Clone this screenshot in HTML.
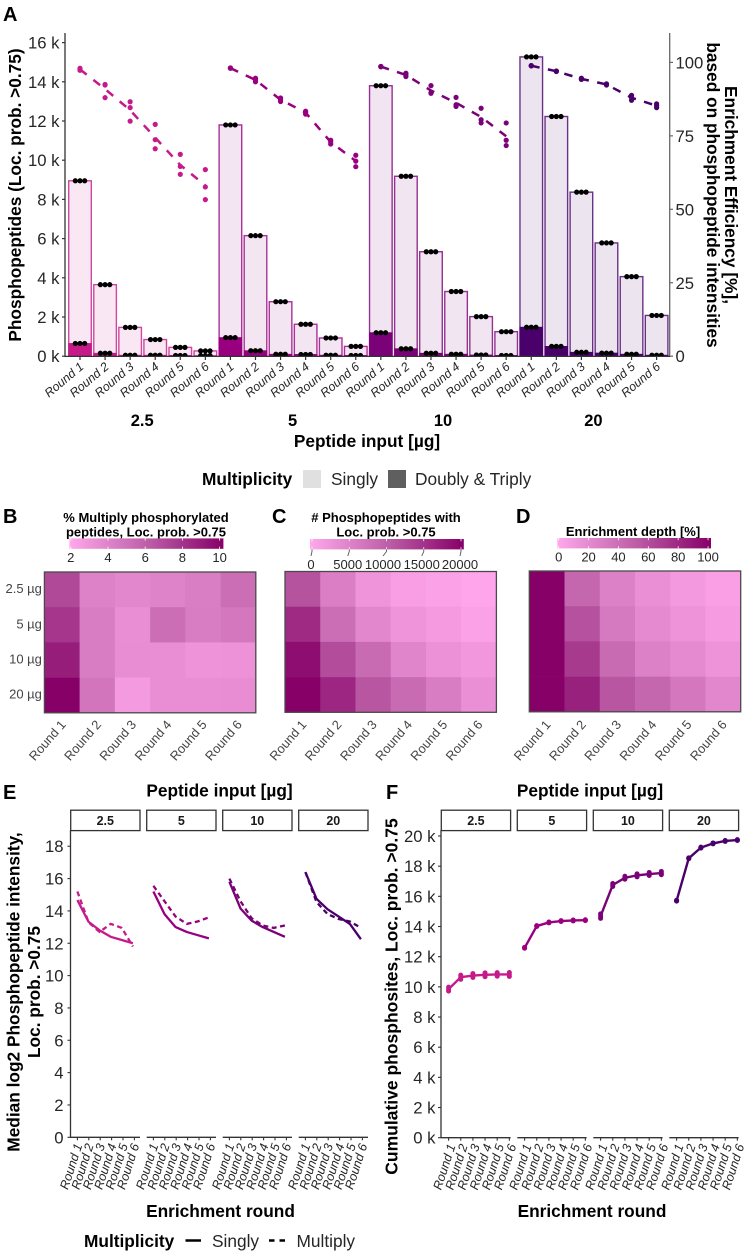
<!DOCTYPE html>
<html lang="en">
<head>
<meta charset="utf-8">
<title>Phosphopeptide enrichment figure</title>
<style>
html,body{margin:0;padding:0;background:#fff;}
svg{display:block;font-family:"Liberation Sans",Arial,sans-serif;}
.b{font-weight:bold;fill:#000;}
.t{fill:#262626;}
</style>
</head>
<body>
<svg id="fig" xmlns="http://www.w3.org/2000/svg" width="746" height="1256" viewBox="0 0 746 1256">
<defs>
<clipPath id="clipA"><rect x="65" y="33" width="605" height="323.3"/></clipPath>
<linearGradient id="cbar" x1="0" x2="1" y1="0" y2="0">
<stop offset="0" stop-color="#ffa8ec"/>
<stop offset="0.5" stop-color="#be60a8"/>
<stop offset="1" stop-color="#860068"/>
</linearGradient>
</defs>
<text class="b" x="3" y="21" font-size="20">A</text>
<text class="b" x="3" y="523" font-size="20">B</text>
<text class="b" x="272" y="523" font-size="20">C</text>
<text class="b" x="516" y="523" font-size="20">D</text>
<text class="b" x="3" y="799" font-size="20">E</text>
<text class="b" x="386" y="799" font-size="20">F</text>

<text class="b" font-size="17.3" text-anchor="middle" transform="translate(21 195) rotate(-90)">Phosphopeptides (Loc. prob. &gt;0.75)</text>
<text class="b" font-size="17.3" text-anchor="middle" transform="translate(725 195) rotate(90)">Enrichment Efficiency [%],</text>
<text class="b" font-size="17.3" text-anchor="middle" transform="translate(707 195) rotate(90)">based on phosphopeptide intensities</text>
<text class="b" font-size="17.3" text-anchor="middle" x="367" y="447">Peptide input [µg]</text>
<text class="b" font-size="17.3" x="202" y="485">Multiplicity</text>
<rect x="303" y="470" width="18" height="18" fill="#e0e0e0"/>
<text class="t" font-size="17.3" x="331" y="485">Singly</text>
<rect x="388" y="470" width="18" height="18" fill="#5f5f5f"/>
<text class="t" font-size="17.3" x="415" y="485">Doubly &amp; Triply</text>

<text class="b" font-size="13" text-anchor="middle" x="146" y="522">% Multiply phosphorylated</text>
<text class="b" font-size="13" text-anchor="middle" x="146" y="536.500">peptides, Loc. prob. &gt;0.75</text>
<text class="b" font-size="13" text-anchor="middle" x="386" y="522"># Phosphopeptides with</text>
<text class="b" font-size="13" text-anchor="middle" x="386" y="536.500">Loc. prob. &gt;0.75</text>
<text class="b" font-size="13" text-anchor="middle" x="633" y="536">Enrichment depth [%]</text>

<text class="b" font-size="17.3" text-anchor="middle" x="219.500" y="796.500">Peptide input [µg]</text>
<text class="b" font-size="17.3" text-anchor="middle" x="590" y="796.500">Peptide input [µg]</text>
<text class="b" font-size="17.3" text-anchor="middle" x="220.500" y="1217">Enrichment round</text>
<text class="b" font-size="17.3" text-anchor="middle" x="592" y="1217">Enrichment round</text>
<text class="b" font-size="17.3" text-anchor="middle" transform="translate(19.500 992) rotate(-90)">Median log2 Phosphopeptide intensity,</text>
<text class="b" font-size="17.3" text-anchor="middle" transform="translate(40 992) rotate(-90)">Loc. prob. &gt;0.75</text>
<text class="b" font-size="17.5" text-anchor="middle" transform="translate(397.500 996.500) rotate(-90)">Cumulative phosphosites, Loc. prob. &gt;0.75</text>
<text class="b" font-size="17.3" x="84" y="1247">Multiplicity</text>
<line x1="185.500" x2="201" y1="1240.500" y2="1240.500" stroke="#000" stroke-width="2.500"/>
<text class="t" font-size="17.3" x="212" y="1247">Singly</text>
<line x1="269" x2="285.500" y1="1240.500" y2="1240.500" stroke="#000" stroke-width="2.500" stroke-dasharray="5.500 5"/>
<text class="t" font-size="17.3" x="296.500" y="1247">Multiply</text>
</svg>
<script>
// ---------- shared category data ----------
const rounds = ['Round 1', 'Round 2', 'Round 3', 'Round 4', 'Round 5', 'Round 6'];
const inputs = ['2.5', '5', '10', '20'];
const inputColors = ['#c51b8a', '#98007f', '#7a0177', '#49006a'];

// ---------- panel A data ----------
const singlyTotals = [
  [8950, 3650, 1470, 850, 450, 270],
  [11800, 6150, 2780, 1630, 930, 500],
  [13800, 9180, 5330, 3300, 2020, 1250],
  [15270, 12230, 8370, 5780, 4060, 2080]
];
const doublyTotals = [
  [650, 150, 50, 50, 40, 30],
  [950, 280, 100, 90, 50, 40],
  [1200, 380, 150, 100, 60, 40],
  [1480, 500, 200, 160, 100, 50]
];
const efficiencyReps = [
  [[98, 97.6, 97.3], [92.5, 92.3, 88], [86.6, 84.6, 80], [78.9, 73.7, 70.6], [68.7, 64.6, 61.9], [63.5, 57.6, 53.3]],
  [[98.1, 98.1, 98], [94.6, 94.1, 93.4], [87.9, 87.3, 86.7], [83.4, 82.9, 82.4], [73.5, 72.9, 72.2], [68.4, 66.4, 64.5]],
  [[98.6, 98.6, 98.5], [96.3, 95.7, 95.2], [92.1, 89.7, 89.5], [88.1, 85.6, 85], [84.4, 80.5, 79.4], [79.4, 73.5, 71.7]],
  [[98.9, 98.9, 98.8], [97.1, 97, 96.9], [94.6, 94.4, 94.2], [92.7, 92.5, 92.3], [88.8, 88, 87.1], [85.9, 85.3, 84.6]]
];
const aLeftTicks = [0, 2000, 4000, 6000, 8000, 10000, 12000, 14000, 16000];
const aRightTicks = [0, 25, 50, 75, 100];

// ---------- heatmap data ----------
const inputRowLabels = ['2.5 µg', '5 µg', '10 µg', '20 µg'];
const heatB = [
  [7.06, 4.08, 3.75, 4.0, 4.33, 5.24],
  [7.88, 4.41, 3.34, 5.24, 4.41, 4.66],
  [8.96, 4.41, 3.42, 3.34, 3.0, 3.09],
  [10.2, 4.82, 2.6, 3.34, 3.34, 3.42]
];
const heatC = [
  [11400, 5600, 2400, 1000, 600, 0],
  [15600, 8000, 4400, 2400, 1600, 600],
  [18600, 12000, 8400, 4800, 3000, 2000],
  [20000, 16000, 11000, 8400, 6000, 3200]
];
const heatD = [
  [100, 45, 27, 16, 9, 4],
  [100, 58, 32, 20, 13, 7],
  [100, 70, 42, 27, 20, 13],
  [100, 83, 55, 45, 33, 22]
];
const ticksB = [2, 4, 6, 8, 10];
const ticksC = [0, 5000, 10000, 15000, 20000];
const ticksD = [0, 20, 40, 60, 80, 100];

// ---------- panel E data ----------
const medianSingly = [
  [14.67, 13.33, 12.8, 12.4, 12.2, 12.0],
  [15.2, 13.8, 13.0, 12.7, 12.5, 12.3],
  [15.8, 14.15, 13.4, 13.0, 12.7, 12.4],
  [16.4, 14.75, 14.1, 13.65, 13.2, 12.25]
];
const medianMultiply = [
  [15.2, 13.3, 12.7, 13.2, 12.95, 11.8],
  [15.55, 14.6, 13.65, 13.2, 13.35, 13.6],
  [16.0, 14.6, 13.55, 13.1, 12.95, 13.1],
  [16.4, 14.55, 13.8, 13.5, 13.35, 12.95]
];
const eTicks = [0, 2, 4, 6, 8, 10, 12, 14, 16, 18];

// ---------- panel F data ----------
const cumulativeReps = [
  [[9720, 9850, 9980], [10500, 10640, 10780], [10620, 10750, 10880], [10670, 10800, 10930], [10700, 10820, 10940], [10690, 10820, 10950]],
  [[12560, 12590, 12620], [14000, 14030, 14060], [14240, 14270, 14300], [14330, 14360, 14390], [14370, 14400, 14430], [14390, 14420, 14450]],
  [[14540, 14690, 14840], [16650, 16750, 16850], [17130, 17230, 17330], [17290, 17390, 17490], [17380, 17480, 17580], [17430, 17540, 17650]],
  [[15680, 15710, 15740], [18490, 18520, 18550], [19200, 19230, 19260], [19480, 19510, 19540], [19640, 19670, 19700], [19700, 19730, 19760]]
];
const fTicks = [0, 2000, 4000, 6000, 8000, 10000, 12000, 14000, 16000, 18000, 20000];

// ---------- drawing helpers ----------
const NS = 'http://www.w3.org/2000/svg';
const fig = document.getElementById('fig');
function mk(tag, attrs, parent) {
  const e = document.createElementNS(NS, tag);
  for (const k in attrs) e.setAttribute(k, attrs[k]);
  (parent || fig).appendChild(e);
  return e;
}
function txt(content, attrs, parent) {
  const e = mk('text', attrs, parent);
  e.textContent = content;
  return e;
}
function mean(a) { return a.reduce((s, v) => s + v, 0) / a.length; }
function kLabel(v) { return (v / 1000) + ' k'; }
const AXIS = '#333333';
const TXT = '#262626';

// ---------- panel A ----------
const aBottom = 356.2;
const yA = v => aBottom - v * 39.2 / 2000;
const yEff = v => aBottom - v * 2.938;
const xA = (g, r) => 80 + 25.07 * (g * 6 + r);

const panelA = mk('g', {});


const barsClip = mk('g', {'clip-path': 'url(#clipA)'}, panelA);


singlyTotals.forEach((row, g) => {
  row.forEach((v, r) => {
    const cx = xA(g, r);
    const bar = mk('rect', {x: cx - 11.3, y: yA(v), width: 22.6, height: aBottom - yA(v), fill: inputColors[g], 'fill-opacity': 0.1, stroke: inputColors[g], 'stroke-opacity': 0.8, 'stroke-width': 1.4}, barsClip);
    
    
    const d = doublyTotals[g][r];
    const bar2 = mk('rect', {x: cx - 11.3, y: yA(d), width: 22.6, height: aBottom - yA(d), fill: inputColors[g], stroke: inputColors[g], 'stroke-width': 0.8}, barsClip);
    
    
    [-1, 0, 1].forEach(k => {
      const p1 = mk('circle', {cx: cx + k * 4.7, cy: yA(v), r: 2.6, fill: '#000'}, barsClip);
      
      
      const p2 = mk('circle', {cx: cx + k * 4.7, cy: yA(d), r: 2.6, fill: '#000'}, barsClip);
      
      
    });
  });
});
efficiencyReps.forEach((grp, g) => {
  const pts = grp.map((reps, r) => xA(g, r) + ',' + yEff(mean(reps))).join(' ');
  const line = mk('polyline', {points: pts, fill: 'none', stroke: inputColors[g], 'stroke-width': 2.5, 'stroke-dasharray': '8.5 8.5'}, panelA);
  
  
  grp.forEach((reps, r) => {
    reps.forEach(v => {
      const c = mk('circle', {cx: xA(g, r), cy: yEff(v), r: 2.6, fill: inputColors[g]}, panelA);
      
      
    });
  });
});
const aAxisL = mk('line', {x1: 65, x2: 65, y1: 33, y2: 357, stroke: AXIS, 'stroke-width': 1.3}, panelA);


const aAxisR = mk('line', {x1: 669.7, x2: 669.7, y1: 33, y2: 357, stroke: '#666666', 'stroke-width': 1.3}, panelA);


const aAxisB = mk('line', {x1: 65, x2: 670, y1: 356.4, y2: 356.4, stroke: AXIS, 'stroke-width': 1.3}, panelA);


aLeftTicks.forEach(v => {
  const tk = mk('line', {x1: 62, x2: 65, y1: yA(v), y2: yA(v), stroke: AXIS, 'stroke-width': 1.2}, panelA);
  
  
  const lb = txt(kLabel(v), {x: 59.5, y: yA(v) + 6, 'text-anchor': 'end', 'font-size': 16.7, fill: TXT}, panelA);
  
  
});
aRightTicks.forEach(v => {
  const tk = mk('line', {x1: 670, x2: 673, y1: yEff(v), y2: yEff(v), stroke: '#666666', 'stroke-width': 1.2}, panelA);
  
  
  const lb = txt(String(v), {x: 675.5, y: yEff(v) + 6, 'font-size': 16.7, fill: TXT}, panelA);
  
  
});
inputs.forEach((name, g) => {
  rounds.forEach((rd, r) => {
    const cx = xA(g, r);
    const tk = mk('line', {x1: cx, x2: cx, y1: 357, y2: 360, stroke: AXIS, 'stroke-width': 1.2}, panelA);
    
    
    const lb = txt(rd, {'text-anchor': 'end', 'font-size': 12.3, 'font-style': 'italic', fill: TXT, transform: 'translate(' + (cx + 4.5) + ' 368) rotate(-40)'}, panelA);
    
    
  });
  const gl = txt(name, {x: (xA(g, 0) + xA(g, 5)) / 2 - 0.5, y: 426, 'text-anchor': 'middle', 'font-size': 16.5, 'font-weight': 'bold', fill: '#000'}, panelA);
  
  
});

// ---------- heatmaps ----------
const lowRGB = [255, 165, 235];
const midRGB = [190, 96, 168];
const highRGB = [134, 0, 104];
function heatColor(t) {
  const c = Math.max(0, Math.min(1, t));
  const from = c < 0.5 ? lowRGB : midRGB;
  const to = c < 0.5 ? midRGB : highRGB;
  const u = c < 0.5 ? c * 2 : (c - 0.5) * 2;
  const m = from.map((l, i) => Math.round(l + (to[i] - l) * u));
  return 'rgb(' + m.join(',') + ')';
}
function drawHeat(name, matrix, lo, hi, left, top, showRows) {
  const w = 211.4, h = 140.8;
  const cw = w / 6, ch = h / 4;
  const grp = mk('g', {});
  
  
  matrix.forEach((row, i) => {
    row.forEach((v, j) => {
      const cell = mk('rect', {x: left + j * cw, y: top + i * ch, width: cw + 0.3, height: ch + 0.3, fill: heatColor((v - lo) / (hi - lo))}, grp);
      
      
    });
  });
  const frame = mk('rect', {x: left, y: top, width: w, height: h, fill: 'none', stroke: '#4a4a4a', 'stroke-width': 1.3}, grp);
  
  
  rounds.forEach((rd, j) => {
    const cx = left + (j + 0.5) * cw;
    const lb = txt(rd, {'text-anchor': 'end', 'font-size': 12.8, fill: '#444444', transform: 'translate(' + (cx + 4.5) + ' 725) rotate(-49)'}, grp);
    
    
  });
  if (showRows) {
    inputRowLabels.forEach((rl, i) => {
      const lb = txt(rl, {x: left - 2.5, y: top + (i + 0.5) * ch + 3.5, 'text-anchor': 'end', 'font-size': 13, fill: '#444444'}, grp);
      
      
    });
  }
}
drawHeat('b', heatB, 1.93, 10.2, 44.4, 572, true);
drawHeat('c', heatC, 0, 20000, 285, 571.5, false);
drawHeat('d', heatD, 0, 100, 529.3, 571, false);

function drawColorbar(name, ticks, x0, x1, first, perUnit, top, labelY, stagger) {
  const grp = mk('g', {});
  
  
  const bar = mk('rect', {x: x0, y: top, width: x1 - x0, height: 10.4, fill: 'url(#cbar)'}, grp);
  
  
  ticks.forEach((v, i) => {
    const x = first + (v - ticks[0]) * perUnit;
    const t1 = mk('line', {x1: x, x2: x, y1: top, y2: top + 2.2, stroke: '#fff', 'stroke-width': 0.8}, grp);
    
    
    const t2 = mk('line', {x1: x, x2: x, y1: top + 8.2, y2: top + 10.4, stroke: '#fff', 'stroke-width': 0.8}, grp);
    
    
    let lx = x;
    if (stagger) {
      lx = x + stagger[i];
      const lead = mk('polyline', {points: x + ',' + (top + 10.4) + ' ' + x + ',' + (top + 12.5) + ' ' + lx + ',' + (top + 17), fill: 'none', stroke: '#555555', 'stroke-width': 0.9}, grp);
      
      
    }
    const lb = txt(String(v), {x: lx, y: labelY, 'text-anchor': 'middle', 'font-size': 13, fill: TXT}, grp);
    
    
  });
}
drawColorbar('b', ticksB, 69.4, 223.4, 70.8, 18.6, 538.4, 562, null);
drawColorbar('c', ticksC, 310, 463.8, 312, 0.00745, 539, 569, [-1, -1.5, -3.5, -2, -1]);
drawColorbar('d', ticksD, 557.4, 711, 558.7, 1.4935, 538, 561.5, null);

// ---------- facet frames ----------
function drawStrips(prefix, lefts) {
  inputs.forEach((name, g) => {
    const s = mk('rect', {x: lefts[g], y: 810.2, width: 69.3, height: 20.4, fill: '#fff', stroke: '#333333', 'stroke-width': 1.3});
    
    
    const l = txt(name, {x: lefts[g] + 34.6, y: 825, 'text-anchor': 'middle', 'font-size': 12.5, 'font-weight': 'bold', fill: '#1a1a1a'});
    
    
  });
}
function drawFacetAxis(prefix, lefts, yBase, firstOffset, step, labelDx) {
  lefts.forEach(left => {
    const ax = mk('line', {x1: left, x2: left + 69.3, y1: yBase, y2: yBase, stroke: AXIS, 'stroke-width': 1.3});
    
    
    rounds.forEach((rd, r) => {
      const x = left + firstOffset + r * step;
      const tk = mk('line', {x1: x, x2: x, y1: yBase, y2: yBase + 3, stroke: AXIS, 'stroke-width': 1.1});
      
      
      const lb = txt(rd, {'text-anchor': 'end', 'font-size': 12.5, 'font-style': 'italic', fill: TXT, transform: 'translate(' + (x + labelDx) + ' ' + (yBase + 8) + ') rotate(-72)'});
      
      
    });
  });
}

// ---------- panel E ----------
const eLefts = [70.7, 146.7, 222.7, 298.7];
const yE = v => 1137.3 - v * 16.17;
const xE = (g, r) => eLefts[g] + 6.7 + r * 11.1;
drawStrips('e', eLefts);
drawFacetAxis('e', eLefts, 1137.3, 6.7, 11.4, 5);
const eAxis = mk('line', {x1: 70.5, x2: 70.5, y1: 830, y2: 1138, stroke: AXIS, 'stroke-width': 1.3});


eTicks.forEach(v => {
  const tk = mk('line', {x1: 67.5, x2: 70.5, y1: yE(v), y2: yE(v), stroke: AXIS, 'stroke-width': 1.1});
  
  
  const lb = txt(String(v), {x: 63.5, y: yE(v) + 6, 'text-anchor': 'end', 'font-size': 16.7, fill: TXT});
  
  
});
medianSingly.forEach((row, g) => {
  const pts = row.map((v, r) => xE(g, r) + ',' + yE(v)).join(' ');
  const ln = mk('polyline', {points: pts, fill: 'none', stroke: inputColors[g], 'stroke-width': 2.3, 'stroke-linejoin': 'round'});
  
  
});
medianMultiply.forEach((row, g) => {
  const pts = row.map((v, r) => xE(g, r) + ',' + yE(v)).join(' ');
  const ln = mk('polyline', {points: pts, fill: 'none', stroke: inputColors[g], 'stroke-width': 2.3, 'stroke-dasharray': '5 3.5'});
  
  
});

// ---------- panel F ----------
const fLefts = [441.3, 517.3, 593.3, 669.3];
const yF = v => 1137.7 - v * 30.17 / 2000;
const xF = (g, r) => fLefts[g] + 7.3 + r * 12.15;
drawStrips('f', fLefts);
drawFacetAxis('f', fLefts, 1137.7, 7.3, 12.15, 7);
const fAxis = mk('line', {x1: 441, x2: 441, y1: 830, y2: 1138.3, stroke: AXIS, 'stroke-width': 1.3});


fTicks.forEach(v => {
  const tk = mk('line', {x1: 438, x2: 441, y1: yF(v), y2: yF(v), stroke: AXIS, 'stroke-width': 1.1});
  
  
  const lb = txt(kLabel(v), {x: 435.5, y: yF(v) + 6, 'text-anchor': 'end', 'font-size': 16.7, fill: TXT});
  
  
});
cumulativeReps.forEach((grp, g) => {
  const pts = grp.map((reps, r) => xF(g, r) + ',' + yF(mean(reps))).join(' ');
  const ln = mk('polyline', {points: pts, fill: 'none', stroke: inputColors[g], 'stroke-width': 2.4, 'stroke-linejoin': 'round'});
  
  
  grp.forEach((reps, r) => {
    reps.forEach(v => {
      const c = mk('circle', {cx: xF(g, r), cy: yF(v), r: 2.5, fill: inputColors[g]});
      
      
    });
  });
});
</script>
</body>
</html>
